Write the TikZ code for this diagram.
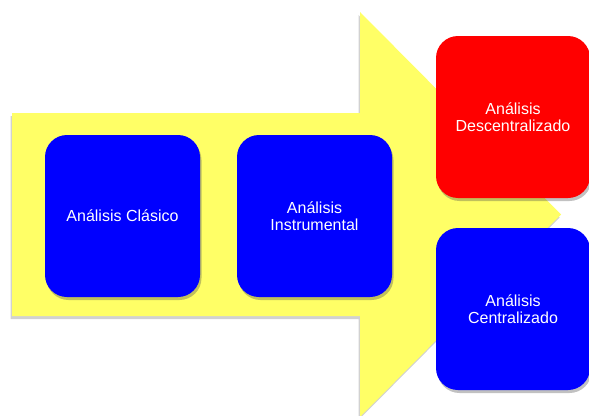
\documentclass[tikz,border=0pt]{standalone}
\usepackage{fontspec}
\setmainfont{Liberation Sans}
\usetikzlibrary{shadows}
\definecolor{arrowyellow}{RGB}{255,255,102}
\definecolor{boxblue}{RGB}{0,0,255}
\definecolor{boxred}{RGB}{255,0,0}
\tikzset{
  stagebox/.style={rounded corners=22pt,minimum width=155pt,minimum height=162pt,inner sep=0pt,
    align=center,text=white,font=\fontsize{16}{17}\selectfont,
    drop shadow={shadow xshift=1.5pt,shadow yshift=-3pt,opacity=0.35,fill=black!70}},
}
\begin{document}
\begin{tikzpicture}[x=1pt,y=-1pt,line width=0.4pt]
\useasboundingbox (0,0) rectangle (589,415);
\coordinate (A1) at (12,113);
\coordinate (A2) at (360,113);
\coordinate (A3) at (360,12);
\coordinate (T) at (561,214.5);
\coordinate (A4) at (360,417);
\coordinate (A5) at (360,316);
\coordinate (A6) at (12,316);
\fill[arrowyellow,drop shadow={shadow xshift=-1.5pt,shadow yshift=-3pt,opacity=0.3,fill=black!60}]
  (A1) -- (A2) -- (A3) -- (T) -- (A4) -- (A5) -- (A6) -- cycle;
\node[stagebox,fill=boxblue] (clasico) at (122.5,216) {Análisis Clásico};
\node[stagebox,fill=boxblue] (instrumental) at (314.5,216) {Análisis\\Instrumental};
\node[stagebox,fill=boxred,minimum width=154pt] (descentral) at (513,117) {Análisis\\Descentralizado};
\node[stagebox,fill=boxblue,minimum width=154pt] (central) at (513,309) {Análisis\\Centralizado};
\end{tikzpicture}
\end{document}
